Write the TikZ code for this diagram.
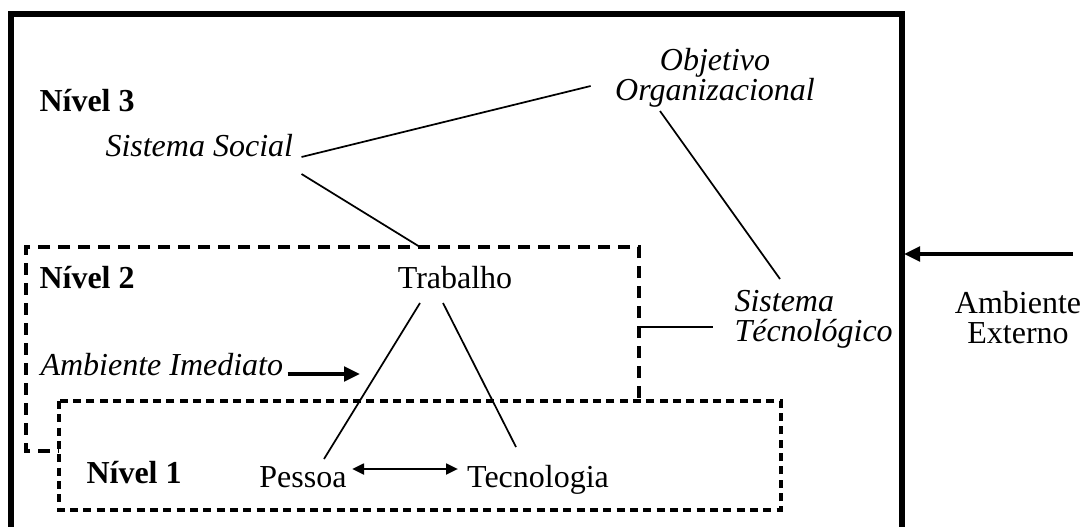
\documentclass[tikz,border=0pt]{standalone}
\usepackage{fontspec}
\setmainfont{Liberation Serif}
\usetikzlibrary{arrows.meta}
\tikzset{every picture/.style={line width=0.75pt}}

\begin{document}
\begin{tikzpicture}[x=0.75pt,y=0.75pt,yscale=-1,xscale=1,
    txt/.style={inner sep=0.75pt,font=\fontsize{24}{22.5}\selectfont},
    nivel/.style={inner sep=0.75pt,font=\fontsize{24}{22.5}\selectfont\bfseries},
    link/.style={line width=1.3pt},
    seta/.style={line width=2.6pt,-{Triangle[length=12pt,width=11pt]}},
    boxtwo/.style={line width=3pt,dash pattern=on 9pt off 6pt},
    boxone/.style={line width=2.3pt,dash pattern=on 6pt off 4pt}]
    %set diagram left start at 0, and has height of 527
    \path[use as bounding box] (0,0) rectangle (1084,527);

    %Outer box (open at the bottom)
    \draw[line width=4.5pt]  (11,527) -- (11,14) -- (902,14) -- (902,527) ;
    %Level 2 dashed box
    \draw[boxtwo]  (639,398) -- (639,247) -- (26,247) -- (26,451) -- (59,451) ;
    %Level 1 dashed box
    \draw[boxone]  (59,401) rectangle (781,510) ;

    \coordinate (l2e) at (639,327) ;
    \coordinate (imed) at (360,374) ;
    \coordinate (wall) at (904,254) ;

    % Text Node
    \node[nivel,anchor=base west] (niv3) at (38,112) {Nível 3};
    % Text Node
    \node[nivel,anchor=base west] (niv2) at (38,288) {Nível 2};
    % Text Node
    \node[nivel,anchor=base west] (niv1) at (85,483) {Nível 1};
    % Text Node
    \node[txt,anchor=base west] (soc) at (104,157) {\itshape Sistema Social};
    % Text Node
    \node[txt,anchor=north,align=center] (obj) at (715,47) {\itshape Objetivo\\\itshape Organizacional};
    % Text Node
    \node[txt,anchor=north west,align=left] (stec) at (733,289) {\itshape Sistema\\\itshape Técnológico};
    % Text Node
    \node[txt,anchor=north,align=center] (ext) at (1018,290) {Ambiente\\Externo};
    % Text Node
    \node[txt,anchor=base] (trab) at (455,288) {Trabalho};
    % Text Node
    \node[txt,anchor=base west] (ambi) at (39,375) {\itshape Ambiente Imediato};
    % Text Node
    \node[txt,anchor=base] (pes) at (303,487) {Pessoa};
    % Text Node
    \node[txt,anchor=base] (tec) at (538,487) {Tecnologia};

    %Straight Lines
    \draw[link]  ([shift={(7,0)}]soc.base east) -- ([shift={(-23,8)}]obj.west) ;
    \draw[link]  ([shift={(7,17)}]soc.base east) -- ([shift={(-35,-41)}]trab.base) ;
    \draw[link]  ([shift={(-55,2)}]obj.south) -- ([shift={(47,-10)}]stec.north west) ;
    \draw[link]  (l2e) -- ([shift={(-20,38)}]stec.north west) ;
    \draw[link]  ([shift={(-35,15)}]trab.base) -- ([shift={(21,-28)}]pes.base) ;
    \draw[link]  ([shift={(-12,15)}]trab.base) -- ([shift={(-22,-40)}]tec.base) ;

    %Arrows
    \draw[line width=2pt,{Triangle[length=9pt,width=8pt]}-{Triangle[length=9pt,width=8pt]}]  ([shift={(49,-18)}]pes.base) -- ([shift={(-80,-18)}]tec.base) ;
    \draw[seta]  ([shift={(3,-1)}]ambi.base east) -- (imed) ;
    \draw[seta]  ([shift={(-10,-36)}]ext.north east) -- (wall) ;

\end{tikzpicture}
\end{document}
